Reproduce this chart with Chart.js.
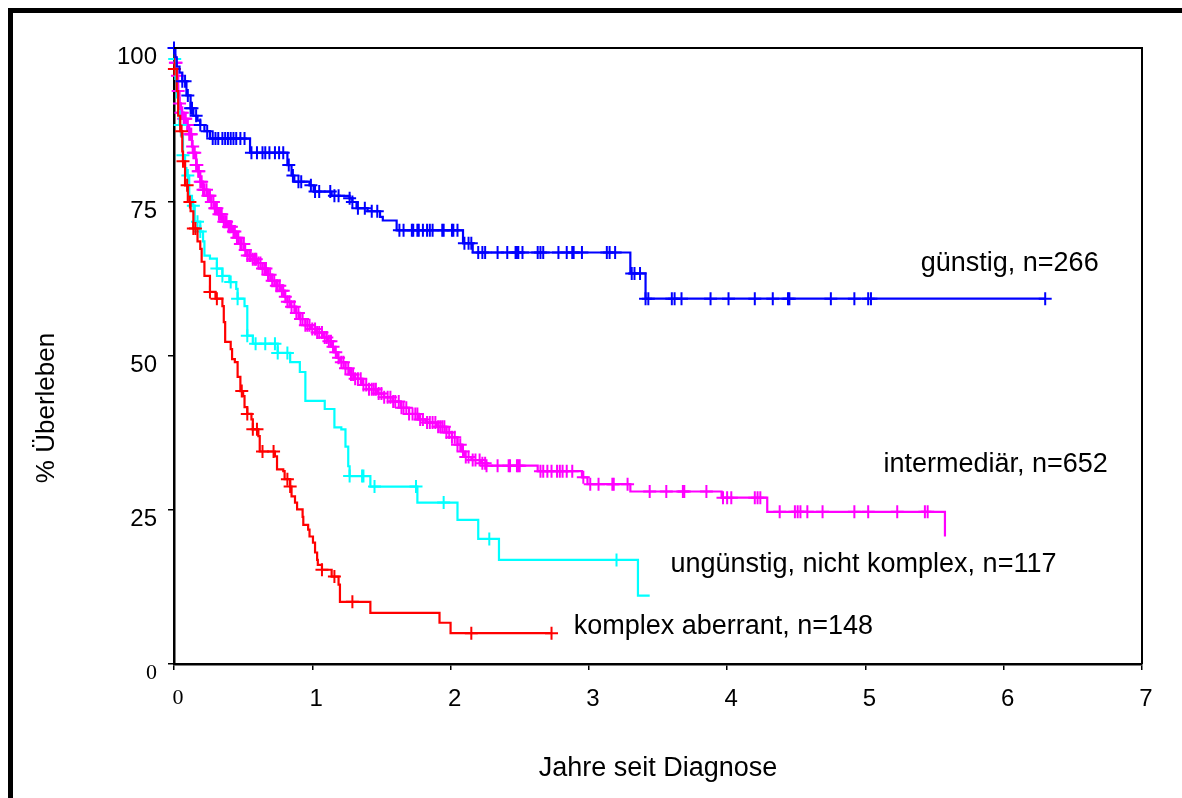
<!DOCTYPE html>
<html>
<head>
<meta charset="utf-8">
<script src="https://cdn.jsdelivr.net/npm/chart.js@4/dist/chart.umd.min.js"></script>
<style>
  html, body { margin: 0; padding: 0; background: #fff; }
  #wrap { width: 1182px; height: 798px; }
</style>
</head>
<body>
<div id="wrap"><canvas id="km" width="1182" height="798"></canvas></div>
<script>
// Kaplan-Meier curves, survival by cytogenetic risk group
const groupLabels = ["günstig, n=266", "intermediär, n=652", "ungünstig, nicht komplex, n=117", "komplex aberrant, n=148"];
const xTitle = "Jahre seit Diagnose";
const yTitle = "% Überleben";
const xTickValues = [0, 1, 2, 3, 4, 5, 6, 7];
const yTickValues = [0, 25, 50, 75, 100];

// günstig: event times (years) and survival (%) after each step
const favTimes = [0.01, 0.02, 0.04, 0.06, 0.09, 0.12, 0.14, 0.17, 0.19, 0.22, 0.26, 0.55, 0.82, 0.85, 0.87, 0.98, 1.01, 1.14, 1.27, 1.29, 1.32, 1.40, 1.49, 1.51, 1.61, 2.09, 2.16, 3.30, 3.41];
const favSurv = [98.5, 97, 96, 94.6, 92.3, 90.2, 89, 88.2, 87.5, 86.5, 85.3, 83, 81, 79.3, 78.3, 77.7, 76.7, 76, 75.6, 75, 74, 73.5, 72.6, 72, 70.4, 68.3, 66.8, 63.4, 59.3];
const favCensored = [0, 0.06, 0.08, 0.10, 0.12, 0.13, 0.16, 0.19, 0.24, 0.28, 0.30, 0.32, 0.35, 0.37, 0.39, 0.41, 0.43, 0.45, 0.48, 0.51, 0.56, 0.60, 0.64, 0.66, 0.69, 0.73, 0.76, 0.79, 0.83, 0.86, 0.90, 0.92, 0.99, 1.02, 1.05, 1.13, 1.16, 1.19, 1.27, 1.29, 1.33, 1.38, 1.43, 1.47, 1.63, 1.66, 1.72, 1.73, 1.76, 1.77, 1.80, 1.83, 1.85, 1.87, 1.94, 1.95, 2.01, 2.02, 2.05, 2.10, 2.13, 2.15, 2.20, 2.23, 2.25, 2.34, 2.41, 2.47, 2.48, 2.49, 2.52, 2.63, 2.65, 2.67, 2.78, 2.84, 2.88, 2.89, 2.95, 3.13, 3.15, 3.19, 3.31, 3.33, 3.37, 3.41, 3.43, 3.60, 3.62, 3.67, 3.88, 4.01, 4.20, 4.33, 4.44, 4.45, 4.75, 4.92, 5.02, 5.04, 6.30];
const favEnd = 6.30;

// intermediär
const intTimes = [0.005, 0.01, 0.02, 0.03, 0.04, 0.05, 0.07, 0.09, 0.11, 0.13, 0.14, 0.16, 0.17, 0.19, 0.21, 0.24, 0.27, 0.29, 0.32, 0.35, 0.39, 0.42, 0.45, 0.48, 0.51, 0.53, 0.57, 0.60, 0.64, 0.67, 0.71, 0.74, 0.77, 0.80, 0.82, 0.84, 0.88, 0.91, 0.95, 0.99, 1.03, 1.08, 1.11, 1.14, 1.16, 1.18, 1.20, 1.24, 1.27, 1.31, 1.36, 1.41, 1.47, 1.52, 1.58, 1.64, 1.70, 1.77, 1.82, 1.90, 1.97, 2.01, 2.05, 2.08, 2.10, 2.15, 2.22, 2.26, 2.63, 2.95, 2.99, 3.30, 3.96, 4.29, 5.575];
const intSurv = [98.8, 97.6, 95.5, 93, 91, 89.5, 88.5, 87.5, 86, 84, 83, 81, 80, 78.3, 77, 76, 75, 74, 73, 71.8, 71, 70.2, 69.2, 68.2, 67.2, 66.3, 65.7, 65.1, 64.2, 63.2, 62.2, 61.4, 60.6, 59.6, 58.8, 58, 57, 56, 55, 54.4, 53.8, 53, 52.4, 51.5, 50.6, 49.7, 49, 48, 47, 46.3, 45.3, 44.6, 43.9, 43.3, 42.6, 41.6, 40.6, 39.7, 39.2, 38.5, 37.6, 36.8, 35.6, 34.5, 33.6, 33.1, 32.6, 32.2, 31.3, 30.3, 29.2, 28, 27, 24.7, 20.7];
const intCensored = [0.01, 0.015, 0.025, 0.03, 0.04, 0.05, 0.06, 0.07, 0.08, 0.085, 0.095, 0.10, 0.11, 0.12, 0.125, 0.135, 0.14, 0.15, 0.16, 0.165, 0.175, 0.18, 0.19, 0.20, 0.21, 0.22, 0.235, 0.245, 0.255, 0.26, 0.27, 0.285, 0.295, 0.30, 0.31, 0.325, 0.335, 0.345, 0.36, 0.37, 0.38, 0.395, 0.405, 0.415, 0.43, 0.44, 0.455, 0.465, 0.48, 0.49, 0.505, 0.515, 0.53, 0.545, 0.555, 0.57, 0.585, 0.595, 0.61, 0.625, 0.64, 0.655, 0.665, 0.68, 0.695, 0.71, 0.725, 0.74, 0.75, 0.765, 0.78, 0.79, 0.805, 0.82, 0.835, 0.85, 0.87, 0.885, 0.90, 0.915, 0.93, 0.95, 0.965, 0.98, 1.00, 1.02, 1.035, 1.05, 1.07, 1.09, 1.105, 1.12, 1.135, 1.15, 1.17, 1.19, 1.21, 1.225, 1.24, 1.26, 1.28, 1.295, 1.31, 1.33, 1.35, 1.37, 1.39, 1.41, 1.43, 1.445, 1.46, 1.48, 1.50, 1.52, 1.545, 1.565, 1.585, 1.60, 1.625, 1.645, 1.66, 1.68, 1.70, 1.725, 1.745, 1.76, 1.78, 1.80, 1.83, 1.85, 1.87, 1.89, 1.91, 1.925, 1.94, 1.955, 1.97, 1.99, 2.01, 2.03, 2.05, 2.07, 2.09, 2.11, 2.13, 2.16, 2.18, 2.21, 2.23, 2.25, 2.26, 2.34, 2.42, 2.43, 2.48, 2.49, 2.50, 2.65, 2.67, 2.70, 2.73, 2.77, 2.79, 2.81, 2.84, 2.88, 2.96, 3.01, 3.07, 3.17, 3.18, 3.28, 3.44, 3.56, 3.68, 3.69, 3.85, 3.97, 4.00, 4.03, 4.20, 4.22, 4.24, 4.38, 4.49, 4.51, 4.53, 4.58, 4.69, 4.92, 5.02, 5.23, 5.43, 5.45];
const intEnd = 5.575;

// ungünstig, nicht komplex
const unfTimes = [0.003, 0.01, 0.02, 0.03, 0.04, 0.05, 0.065, 0.08, 0.09, 0.11, 0.13, 0.15, 0.19, 0.21, 0.22, 0.26, 0.31, 0.35, 0.40, 0.45, 0.46, 0.51, 0.53, 0.57, 0.75, 0.84, 0.91, 0.95, 1.09, 1.16, 1.21, 1.24, 1.26, 1.27, 1.42, 1.76, 2.05, 2.20, 2.35, 3.355];
const unfSurv = [98.2, 95, 92, 89.7, 87.5, 85.8, 82.6, 80.5, 79.3, 76, 74.4, 71.8, 70.2, 68.6, 66.3, 65.8, 64.2, 63, 62, 60.9, 59.3, 58.1, 53.3, 52.0, 50.5, 49, 47.4, 42.7, 41.4, 38.4, 38.1, 35.3, 32.1, 30.5, 28.8, 26.2, 23.4, 20.3, 16.9, 11.1];
const unfCensored = [0.005, 0.045, 0.065, 0.10, 0.14, 0.17, 0.19, 0.31, 0.35, 0.41, 0.46, 0.53, 0.59, 0.66, 0.73, 0.75, 0.82, 1.27, 1.36, 1.37, 1.45, 1.75, 1.95, 2.28, 3.20];
const unfEnd = 3.44;

// komplex aberrant
const cpxTimes = [0.002, 0.02, 0.03, 0.045, 0.06, 0.065, 0.08, 0.10, 0.12, 0.14, 0.17, 0.19, 0.20, 0.22, 0.26, 0.30, 0.35, 0.36, 0.37, 0.41, 0.42, 0.44, 0.46, 0.48, 0.50, 0.51, 0.53, 0.56, 0.57, 0.61, 0.62, 0.73, 0.745, 0.79, 0.80, 0.84, 0.85, 0.875, 0.89, 0.93, 0.935, 0.97, 0.98, 1.005, 1.02, 1.035, 1.04, 1.07, 1.14, 1.19, 1.20, 1.42, 1.92, 2.00];
const cpxSurv = [96.6, 93, 89, 86.5, 83.2, 81.6, 77.7, 75, 73.5, 70.7, 68.6, 67.4, 65.3, 63, 60.4, 59.3, 58.1, 55.5, 52.3, 51.1, 49.5, 49, 46.6, 44.3, 43.5, 41.7, 40.6, 39.7, 38.1, 37, 34.5, 33.7, 31.6, 31.3, 30, 28.8, 27.2, 26.2, 25.1, 23.9, 22.6, 21.8, 20.7, 19.7, 18.1, 16.9, 16.1, 15.3, 14.2, 12.9, 10.1, 8.3, 6.7, 5.0];
const cpxCensored = [0.003, 0.055, 0.065, 0.095, 0.115, 0.14, 0.155, 0.26, 0.31, 0.49, 0.53, 0.57, 0.60, 0.64, 0.72, 0.82, 0.84, 1.07, 1.16, 1.29, 2.15, 2.73];
const cpxEnd = 2.73;

const SANS = "'Liberation Sans', Arial, Helvetica, sans-serif";
const SERIF = "'Liberation Serif', 'Times New Roman', serif";

const groups = [
  { times: favTimes, surv: favSurv, cens: favCensored, end: favEnd, color: "#0000ff" },
  { times: cpxTimes, surv: cpxSurv, cens: cpxCensored, end: cpxEnd, color: "#ff0000" },
  { times: unfTimes, surv: unfSurv, cens: unfCensored, end: unfEnd, color: "#00ffff" },
  { times: intTimes, surv: intSurv, cens: intCensored, end: intEnd, color: "#ff00ff" }
];
// where the group labels sit, in axis units (index matches groupLabels)
const labelAnchors = [
  { x: 5.40, y: 65.0 },
  { x: 5.13, y: 32.4 },
  { x: 3.59, y: 16.1 },
  { x: 2.89, y: 6.0 }
];

function survAt(times, surv, t) {
  let s = 100;
  for (let i = 0; i < times.length; i++) {
    if (times[i] <= t) s = surv[i];
  }
  return s;
}

const datasets = [];
groups.forEach((g) => {
  const pts = [{ x: 0, y: 100 }];
  g.times.forEach((t, i) => pts.push({ x: t, y: g.surv[i] }));
  pts.push({ x: g.end, y: g.surv[g.surv.length - 1] });
  datasets.push({
    data: pts,
    showLine: true,
    stepped: true,
    borderColor: g.color,
    borderWidth: 2.2,
    pointRadius: 0,
    fill: false
  });
  datasets.push({
    data: g.cens.map((t) => ({ x: t, y: survAt(g.times, g.surv, t) })),
    showLine: false,
    pointStyle: "cross",
    pointRadius: 6.5,
    pointBorderWidth: 2,
    borderColor: g.color,
    backgroundColor: g.color,
    clip: false
  });
});

const decor = {
  id: "decor",
  beforeDraw(chart) {
    const ctx = chart.ctx;
    ctx.save();
    ctx.fillStyle = "#fff";
    ctx.fillRect(0, 0, chart.width, chart.height);
    ctx.fillStyle = "#000";
    ctx.fillRect(8, 8, chart.width - 8, 5);
    ctx.fillRect(8, 8, 5, chart.height - 8);
    ctx.restore();
  },
  afterDraw(chart) {
    const ctx = chart.ctx;
    const a = chart.chartArea;
    const xs = chart.scales.x, ys = chart.scales.y;
    ctx.save();
    ctx.strokeStyle = "#000";
    ctx.lineWidth = 2;
    ctx.beginPath();
    ctx.moveTo(a.left, a.top);
    ctx.lineTo(a.right, a.top);
    ctx.lineTo(a.right, a.bottom);
    ctx.stroke();

    ctx.fillStyle = "#000";
    ctx.font = "27px " + SANS;
    ctx.textBaseline = "middle";
    ctx.textAlign = "left";
    groupLabels.forEach((txt, i) => {
      const p = labelAnchors[i];
      ctx.fillText(txt, xs.getPixelForValue(p.x), ys.getPixelForValue(p.y));
    });

    ctx.font = "26px " + SANS;
    ctx.translate(47, 408);
    ctx.rotate(-Math.PI / 2);
    ctx.textAlign = "center";
    ctx.fillText(yTitle, 0, 0);
    ctx.restore();
  }
};

function tickFont(c) {
  if (c.tick && c.tick.value === 0) return { family: SERIF, size: 22 };
  return { family: SANS, size: 24 };
}

new Chart(document.getElementById("km"), {
  type: "scatter",
  data: { datasets },
  options: {
    responsive: false,
    animation: false,
    devicePixelRatio: 1,
    layout: { padding: { top: 48, right: 40, left: 0, bottom: 0 }, autoPadding: false },
    plugins: { legend: { display: false }, tooltip: { enabled: false } },
    scales: {
      x: {
        type: "linear",
        min: 0,
        max: 7,
        afterFit: (s) => { s.height = 134; },
        afterBuildTicks: (s) => { s.ticks = xTickValues.map((v) => ({ value: v })); },
        grid: { drawOnChartArea: false, drawTicks: true, tickLength: 6, color: "#000", lineWidth: 1.5 },
        border: { display: true, color: "#000", width: 2.5 },
        ticks: { font: tickFont, color: "#000", padding: 15, labelOffset: 4, maxRotation: 0, autoSkip: false },
        title: { display: true, text: xTitle, color: "#000", font: { family: SANS, size: 27 }, padding: { top: 0, bottom: 13 } }
      },
      y: {
        type: "linear",
        min: 0,
        max: 100,
        afterFit: (s) => { s.width = 174; },
        afterBuildTicks: (s) => { s.ticks = yTickValues.map((v) => ({ value: v })); },
        grid: { drawOnChartArea: false, drawTicks: true, tickLength: 6, color: "#000", lineWidth: 1.5 },
        border: { display: true, color: "#000", width: 2.5 },
        ticks: { font: tickFont, color: "#000", padding: 11, labelOffset: 9, autoSkip: false }
      }
    }
  },
  plugins: [decor]
});
</script>
</body>
</html>
